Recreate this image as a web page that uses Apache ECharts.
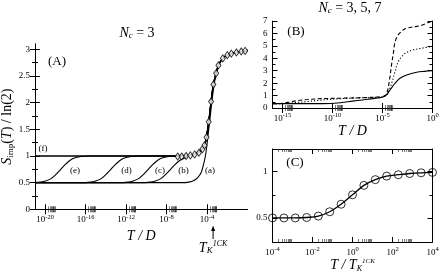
<!DOCTYPE html>
<html>
<head>
<meta charset="utf-8">
<script src="https://cdn.jsdelivr.net/npm/echarts@6/dist/echarts.min.js"></script>
<style>html,body{margin:0;padding:0;background:#fff}#c{width:439px;height:273px}</style>
</head>
<body>
<div id="c"></div>
<script>
// ---------------- DATA ----------------
// Panel A (N_c = 3): exponents of T/D and S_imp/ln2
const fE = [-21, -7, -6, -5.5, -5, -4.6, -4.35, -4.15, -4.0, -3.83, -3.6, -3.37, -3.1, -2.87, -2.44, -2.0, -1.6, -1.1, -0.62, -0.23, 0];
const fS = [1, 1, 1, 1.02, 1.05, 1.1, 1.16, 1.27, 1.42, 1.64, 2.02, 2.34, 2.55, 2.7, 2.83, 2.89, 2.92, 2.94, 2.96, 2.97, 2.98];
const aE = [-21, -6.5, -5.8, -5.3, -4.9, -4.6, -4.4, -4.16, -4.0, -3.8, -3.6, -3.4, -3.2, -3.0, -2.8, -2.44];
const aS = [0.5, 0.5, 0.51, 0.54, 0.6, 0.68, 0.8, 1.0, 1.22, 1.55, 1.88, 2.2, 2.45, 2.62, 2.73, 2.83];
const bE = [-21, -10.6, -9.6, -9.1, -8.6, -8.1, -7.6, -7.1, -6.6, -6.1];
const bS = [0.5, 0.5, 0.51, 0.53, 0.57, 0.65, 0.75, 0.85, 0.93, 0.97];
const cE = [-21, -12.8, -11.8, -11.3, -10.8, -10.3, -9.8, -9.3, -8.8, -8.3, -7.8, -6.8];
const cS = [0.5, 0.5, 0.51, 0.53, 0.57, 0.65, 0.75, 0.85, 0.93, 0.97, 0.99, 1.0];
const dE = [-21, -16.5, -15.5, -15, -14.5, -14, -13.5, -13, -12.5, -12, -11.5, -10.5];
const dS = [0.5, 0.5, 0.51, 0.53, 0.57, 0.65, 0.75, 0.85, 0.93, 0.97, 0.99, 1.0];
const eE = [-21, -20.45, -19.95, -19.45, -18.95, -18.45, -17.95, -17.45, -16.95, -16.45, -15.45];
const eS = [0.5, 0.51, 0.53, 0.57, 0.65, 0.75, 0.85, 0.93, 0.97, 0.99, 1.0];
const diaE = [-6.9, -6.5, -6.07, -5.65, -5.22, -4.8, -4.45, -4.25, -4.05, -3.83, -3.6, -3.37, -3.1, -2.87, -2.44, -2.0, -1.6, -1.1, -0.62, -0.23];
const diaS = [0.99, 0.99, 1.0, 1.01, 1.03, 1.06, 1.13, 1.2, 1.35, 1.64, 2.02, 2.34, 2.55, 2.7, 2.83, 2.89, 2.92, 2.94, 2.96, 2.97];
const aTickLabels = [-20, -16, -12, -8, -4];
const aYLabels = [0, 0.5, 1, 1.5, 2, 2.5, 3];
const aYMinor = [0.25, 0.75, 1.25, 1.75, 2.25, 2.75];
const TK_E = -3.4;

// Panel B (N_c = 3, 5, 7)
const b3E = [-16, -11, -10.2, -9.5, -8.5, -7.5, -6.5, -5.5, -4.95, -4.6, -4.25, -3.75, -3.25, -2.58, -1.58, -0.8, 0];
const b3S = [0.35, 0.35, 0.36, 0.4, 0.5, 0.6, 0.7, 0.8, 0.88, 1.05, 1.45, 1.99, 2.39, 2.66, 2.88, 2.95, 3.0];
const b5E = [-16, -14.8, -13.5, -12.45, -11.3, -10.15, -9, -7.8, -6, -4.95, -4.6, -4.3, -4.0, -3.75, -3.42, -2.92, -2.4, -1.92, -1.0, 0];
const b5S = [0.35, 0.36, 0.45, 0.52, 0.62, 0.7, 0.76, 0.8, 0.85, 0.9, 1.05, 1.5, 2.2, 2.93, 3.73, 4.27, 4.55, 4.68, 4.82, 4.96];
const b7E = [-16, -15, -14.2, -13.45, -12.5, -11.8, -10.5, -9.1, -7, -5.5, -4.95, -4.6, -4.35, -4.1, -3.9, -3.75, -3.5, -3.25, -2.9, -2.58, -2.0, -1.58, -1.0, -0.58, -0.2, 0];
const b7S = [0.35, 0.38, 0.5, 0.6, 0.68, 0.73, 0.77, 0.79, 0.83, 0.88, 0.92, 1.15, 2.0, 3.45, 4.5, 5.3, 5.8, 6.05, 6.3, 6.42, 6.52, 6.57, 6.68, 6.82, 6.95, 7.0];
const bTickLabels = [-15, -10, -5, 0];
const bYLabels = [0, 1, 2, 3, 4, 5, 6, 7];
const bYMinor = [0.5, 1.5, 2.5, 3.5, 4.5, 5.5, 6.5];

// Panel C (scaled)
const scE = [-4, -3.43, -2.86, -2.29, -1.71, -1.14, -0.57, 0, 0.57, 1.14, 1.71, 2.29, 2.86, 3.43, 4];
const scS = [0.5, 0.5, 0.5, 0.505, 0.52, 0.567, 0.648, 0.75, 0.852, 0.914, 0.952, 0.967, 0.98, 0.988, 0.992];
const cTickLabels = [-4, -2, 0, 2, 4];
const cYLabels = [0.5, 1];
const cYMinor = [0.75];

// ---------------- BUILD ----------------
const FONT = '"Liberation Serif", "DejaVu Serif", serif';
const BLACK = '#000';
const p10 = e => Math.pow(10, e);
const pts = (E, S) => E.map((e, i) => [p10(e), S[i]]);
const withTail = (E, S) => {
  const last = E[E.length - 1];
  const d = pts(E, S);
  fE.forEach((e, i) => { if (e > last) d.push([p10(e), fS[i]]); });
  return d;
};

const supRich = {
  b: { fontSize: 9, fontFamily: FONT, color: BLACK },
  s: { fontSize: 6.5, fontFamily: FONT, color: BLACK, padding: [0, 0, 6, 0] }
};
const xFmt = v => '{b|10}{s|' + Math.round(Math.log10(v)) + '}';
const minorStyle = { color: '#222', width: 0.6 };

const xAxes = [], yAxes = [];
function addX(gi, min, max, labelExps, bunchExps, name, nameGap, nameRich) {
  const major = labelExps.map(p10);
  const minor = [];
  bunchExps.forEach(k => { for (let n = 2; n <= 9; n++) { const v = n * p10(k); if (v < max) minor.push(v); } });
  const base = { type: 'log', logBase: 10, gridIndex: gi, min: min, max: max, splitLine: { show: false }, axisPointer: { show: false } };
  xAxes.push(Object.assign({}, base, {
    position: 'bottom',
    axisLine: { show: true, lineStyle: { color: BLACK, width: 1 } },
    axisTick: { show: true, inside: true, length: 5, customValues: major, lineStyle: { color: BLACK, width: 1 } },
    axisLabel: { show: true, customValues: major, formatter: xFmt, margin: 4, rich: supRich },
    name: name, nameLocation: 'middle', nameGap: nameGap,
    nameTextStyle: { fontFamily: FONT, fontSize: 14, fontStyle: 'italic', color: BLACK, rich: nameRich }
  }));
  xAxes.push(Object.assign({}, base, {
    position: 'bottom', axisLine: { show: false },
    axisTick: { show: true, inside: true, length: 3, customValues: minor, lineStyle: minorStyle },
    axisLabel: { show: false }
  }));
  xAxes.push(Object.assign({}, base, {
    position: 'top',
    axisLine: { show: true, lineStyle: { color: BLACK, width: 1 } },
    axisTick: { show: true, inside: true, length: 5, customValues: major, lineStyle: { color: BLACK, width: 1 } },
    axisLabel: { show: false }
  }));
  xAxes.push(Object.assign({}, base, {
    position: 'top', axisLine: { show: false },
    axisTick: { show: true, inside: true, length: 3, customValues: minor, lineStyle: minorStyle },
    axisLabel: { show: false }
  }));
}
function addY(gi, min, max, labels, minor, extra) {
  const base = { type: 'value', gridIndex: gi, min: min, max: max, splitLine: { show: false }, axisPointer: { show: false } };
  yAxes.push(Object.assign({}, base, {
    position: 'left',
    axisLine: { show: true, lineStyle: { color: BLACK, width: 1 } },
    axisTick: { show: true, inside: true, length: 5, customValues: labels, lineStyle: { color: BLACK, width: 1 } },
    axisLabel: { show: true, customValues: labels, margin: 5, fontFamily: FONT, fontSize: 9, color: BLACK, formatter: v => String(v) }
  }, extra || {}));
  yAxes.push(Object.assign({}, base, {
    position: 'left', axisLine: { show: false },
    axisTick: { show: true, inside: true, length: 3, customValues: minor, lineStyle: { color: BLACK, width: 1 } },
    axisLabel: { show: false }
  }));
  yAxes.push(Object.assign({}, base, {
    position: 'right',
    axisLine: { show: true, lineStyle: { color: BLACK, width: 1 } },
    axisTick: { show: true, inside: true, length: 5, customValues: labels, lineStyle: { color: BLACK, width: 1 } },
    axisLabel: { show: false }
  }));
  yAxes.push(Object.assign({}, base, {
    position: 'right', axisLine: { show: false },
    axisTick: { show: true, inside: true, length: 3, customValues: minor, lineStyle: { color: BLACK, width: 1 } },
    axisLabel: { show: false }
  }));
}

const nameRichTD = {};
const nameRichC = {
  i: { fontFamily: FONT, fontSize: 14, fontStyle: 'italic', color: BLACK },
  sub: { fontFamily: FONT, fontSize: 8, fontStyle: 'italic', color: BLACK, padding: [6, 0, 0, 0] },
  sup: { fontFamily: FONT, fontSize: 7, fontStyle: 'italic', color: BLACK, padding: [0, 0, 8, 0] }
};

addX(0, 1e-21, 1, aTickLabels, aTickLabels, 'T / D', 17, nameRichTD);
addX(1, 1e-16, 1, bTickLabels, [-15, -10, -5], 'T / D', 11, nameRichTD);
addX(2, 1e-4, 1e4, cTickLabels, [-4, -2, 0, 2], '{i|T / T}{sub|K}{sup|1CK}', 10, nameRichC);

addY(0, 0, 3.1, aYLabels, aYMinor, {
  name: '{i|S}{sub|imp}{n|(}{i|T}{n|) / ln(2)}', nameLocation: 'middle', nameGap: 18,
  nameTextStyle: { fontFamily: FONT, fontSize: 14, color: BLACK, rich: {
    i: { fontFamily: FONT, fontSize: 14, fontStyle: 'italic', color: BLACK },
    n: { fontFamily: FONT, fontSize: 14, color: BLACK },
    sub: { fontFamily: FONT, fontSize: 9, color: BLACK, padding: [6, 0, 0, 0] }
  } }
});
addY(1, 0, 7, bYLabels, bYMinor);
addY(2, 0.24, 1.245, cYLabels, cYMinor);

const lineBase = { type: 'line', showSymbol: false, symbol: 'none', smooth: 0.35, animation: false, silent: true,
  lineStyle: { color: BLACK, width: 1.1 } };
const series = [];
const addLine = (gi, data, extra) => series.push(Object.assign({}, lineBase, { xAxisIndex: gi * 4, yAxisIndex: gi * 4, data: data }, extra || {}));

// Panel A
addLine(0, pts(fE, fS), { lineStyle: { color: BLACK, width: 1.4 } });
addLine(0, withTail(aE, aS));
addLine(0, withTail(bE, bS));
addLine(0, withTail(cE, cS));
addLine(0, withTail(dE, dS));
addLine(0, withTail(eE, eS));
series.push({ type: 'scatter', xAxisIndex: 0, yAxisIndex: 0, data: pts(diaE, diaS), symbol: 'diamond', symbolSize: [5, 7],
  itemStyle: { color: '#fff', borderColor: BLACK, borderWidth: 1 }, silent: true, animation: false, z: 5 });
// Panel B
addLine(1, pts(b3E, b3S));
addLine(1, pts(b5E, b5S), { lineStyle: { color: BLACK, width: 1.1, type: [1.2, 2] } });
addLine(1, pts(b7E, b7S), { lineStyle: { color: BLACK, width: 1.1, type: [4, 2.5] } });
// Panel C
addLine(2, pts(scE, scS), { smooth: 0.4, lineStyle: { color: BLACK, width: 1.3 } });
series.push({ type: 'scatter', xAxisIndex: 8, yAxisIndex: 8, data: pts(scE, scS), symbol: 'circle', symbolSize: 8,
  itemStyle: { color: 'rgba(255,255,255,0)', borderColor: BLACK, borderWidth: 1 }, silent: true, animation: false, z: 5 });

const T = (x, y, text, size, extra) => Object.assign({ type: 'text', x: x, y: y, silent: true, style: Object.assign({
  text: text, fontFamily: FONT, fontSize: size, fill: BLACK, align: 'center', verticalAlign: 'middle',
  textAlign: 'center', textVerticalAlign: 'middle'
}, extra || {}) });
const titleRich = {
  i: { fontFamily: FONT, fontSize: 14, fontStyle: 'italic', fill: BLACK, color: BLACK },
  n: { fontFamily: FONT, fontSize: 14, fill: BLACK, color: BLACK },
  sub: { fontFamily: FONT, fontSize: 9, fontStyle: 'italic', fill: BLACK, color: BLACK, padding: [6, 0, 0, 0] },
  sup: { fontFamily: FONT, fontSize: 8, fontStyle: 'italic', fill: BLACK, color: BLACK, padding: [0, 0, 8, 0] }
};

const graphics = [
  T(137, 33, '{i|N}{sub|c}{n| = 3}', 14, { rich: titleRich }),
  T(350, 8, '{i|N}{sub|c}{n| = 3, 5, 7}', 14, { rich: titleRich }),
  T(57, 62, '(A)', 13), T(296, 32, '(B)', 13), T(295, 163, '(C)', 13),
  T(43, 149, '(f)', 9), T(75, 171, '(e)', 9), T(126.5, 171, '(d)', 9),
  T(160, 171, '(c)', 9), T(183.5, 171, '(b)', 9), T(210, 171, '(a)', 9)
];

const chart = echarts.init(document.getElementById('c'), null, { renderer: 'canvas' });
const option = {
  animation: false,
  backgroundColor: '#fff',
  grid: [
    { left: 35, top: 44, width: 212.5, height: 165.3, containLabel: false, outerBoundsMode: 'none' },
    { left: 272.5, top: 21, width: 160, height: 87, containLabel: false, outerBoundsMode: 'none' },
    { left: 272.5, top: 149, width: 160, height: 93, containLabel: false, outerBoundsMode: 'none' }
  ],
  xAxis: xAxes,
  yAxis: yAxes,
  series: series,
  graphic: graphics
};
chart.setOption(option);

// T_K annotation below panel A, placed through the axis scale
const tkX = chart.convertToPixel({ xAxisIndex: 0 }, p10(TK_E));
chart.setOption({ graphic: graphics.concat([
  { type: 'line', silent: true, shape: { x1: tkX, y1: 239, x2: tkX, y2: 229 }, style: { stroke: BLACK, lineWidth: 1 } },
  { type: 'polygon', silent: true, shape: { points: [[tkX, 225.5], [tkX - 2, 231], [tkX + 2, 231]] }, style: { fill: BLACK } },
  T(tkX, 248, '{i|T}{sub|K}{sup|1CK}', 13, { rich: titleRich })
]) });
</script>
</body>
</html>
